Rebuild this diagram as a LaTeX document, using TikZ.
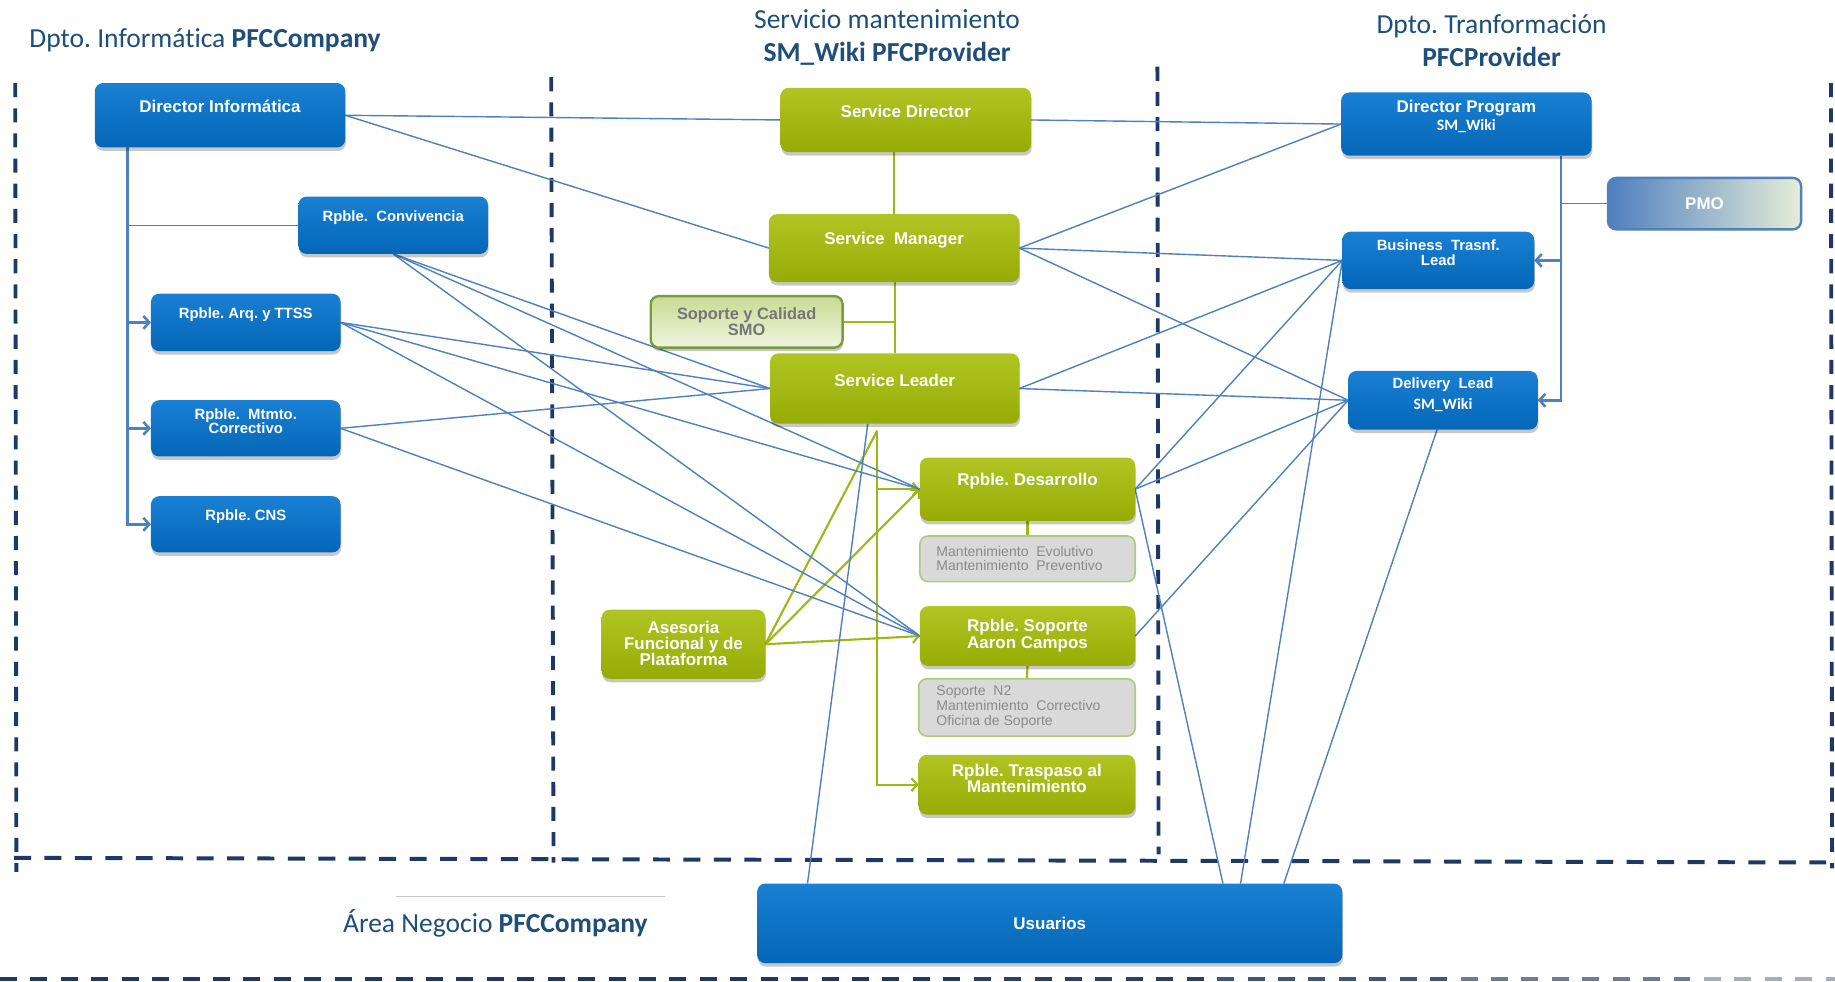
\documentclass[tikz,border=0pt]{standalone}
\usepackage{fontspec}
\setmainfont{Liberation Sans}
\newfontfamily\calib[Ligatures=NoCommon]{Carlito}
\usetikzlibrary{arrows.meta,shadows,calc}
\frenchspacing

\definecolor{navy}{HTML}{1F3864}
\definecolor{fadeend}{HTML}{D8DCE2}
\definecolor{ttl}{HTML}{1F4E79}
\definecolor{connc}{HTML}{4F81BD}
\definecolor{bluetop}{HTML}{1A80D3}
\definecolor{bluebot}{HTML}{0466B6}
\definecolor{greentop}{HTML}{B0C523}
\definecolor{greenbot}{HTML}{96AC05}
\definecolor{greenc}{HTML}{9DB815}
\definecolor{grayfill}{HTML}{D9D9D9}
\definecolor{grayedge}{HTML}{ADCB78}
\definecolor{graytext}{HTML}{8A8A8A}
\definecolor{smotop}{HTML}{C8DB92}
\definecolor{smobot}{HTML}{EFF5E0}
\definecolor{smoedge}{HTML}{7A9A3E}
\definecolor{smotext}{HTML}{767676}
\definecolor{pmoA}{HTML}{4F7FBF}
\definecolor{pmoB}{HTML}{7FA3CF}
\definecolor{pmoC}{HTML}{E6EDD8}

\pgfdeclarelayer{bg}
\pgfsetlayers{bg,main}

\tikzset{
  box/.style={rounded corners=7pt, inner sep=0pt, outer sep=0pt},
  shadowed/.style={drop shadow={shadow xshift=0.6pt, shadow yshift=-3pt, opacity=0.22, fill=black}},
  bluebox/.style={box, top color=bluetop, bottom color=bluebot, shadowed},
  greenbox/.style={box, top color=greentop, bottom color=greenbot, shadowed},
  notebox/.style={box, fill=grayfill, draw=grayedge, line width=1.4pt},
  smobox/.style={box, top color=smotop, bottom color=smobot, draw=smoedge, line width=2pt, shadowed},
  pmobox/.style={box, left color=pmoA, middle color=pmoB, right color=pmoC, draw=connc, line width=2pt},
  wl/.style={inner sep=0pt, text=white, align=center, font=\bfseries\fontsize{14.5}{14}\selectfont},
  ws/.style={inner sep=0pt, text=white, align=center, font=\bfseries\fontsize{12.7}{12.3}\selectfont},
  wk/.style={inner sep=0pt, text=white, align=center, font=\calib\bfseries\fontsize{13.5}{14}\selectfont},
  gl/.style={inner sep=0pt, anchor=west, align=left, text=graytext, font=\fontsize{12}{12.6}\selectfont},
  smol/.style={inner sep=0pt, align=center, text=smotext, font=\bfseries\fontsize{14}{14}\selectfont},
  ttlf/.style={inner sep=0pt, text=ttl, font=\calib\fontsize{23.5}{28.4}\selectfont},
  conn/.style={draw=connc, line width=1.2pt},
  trunk/.style={draw=connc, line width=2.2pt},
  gconn/.style={draw=greenc, line width=1.8pt},
  arr/.style={-{Straight Barb[length=5pt,width=11pt]}},
  vdash/.style={draw=navy, line width=3.3pt, dash pattern=on 12pt off 9.5pt},
  hdash/.style={draw=navy, line width=3.4pt, dash pattern=on 14.5pt off 11.5pt},
}

\begin{document}
\begin{tikzpicture}[x=1pt,y=-1pt]
\useasboundingbox (0,0) rectangle (1568,839);

% ---- column titles ----
\node[ttlf, anchor=west] (t1) at (25,34.5) {Dpto. Informática \textbf{PFCCompany}};
\node[ttlf, align=center] (t2) at (758,32) {Servicio mantenimiento\\\textbf{SM\_Wiki PFCProvider}};
\node[ttlf, align=center] (t3) at (1274.5,34.7) {Dpto. Tranformación\\\textbf{PFCProvider}};
\node[ttlf, anchor=west] (t4) at (293,789) {Área Negocio \textbf{PFCCompany}};
\draw[black!22, line width=1.5pt] (338,766) -- (568,766);

% ---- boxes: Dpto. Informática ----
\node[bluebox, minimum width=214pt, minimum height=55pt] (di) at (188,98.5) {};
\node[bluebox, minimum width=162pt, minimum height=49pt] (conv) at (336,192.5) {};
\node[bluebox, minimum width=162pt, minimum height=49pt] (arq) at (210,275.5) {};
\node[bluebox, minimum width=162pt, minimum height=48pt] (mtm) at (210,366) {};
\node[bluebox, minimum width=162pt, minimum height=48pt] (cns) at (210,448) {};

% ---- boxes: Servicio mantenimiento ----
\node[greenbox, minimum width=214pt, minimum height=55pt] (sd) at (774,102.5) {};
\node[greenbox, minimum width=214pt, minimum height=58pt] (sm) at (764,212) {};
\node[smobox, minimum width=164pt, minimum height=44pt] (smo) at (638,275) {};
\node[greenbox, minimum width=213pt, minimum height=60pt] (sl) at (764.5,332) {};
\node[greenbox, minimum width=184pt, minimum height=54pt] (des) at (878,418) {};
\node[notebox, minimum width=184pt, minimum height=39pt] (mevo) at (878,477.5) {};
\node[greenbox, minimum width=140pt, minimum height=59pt] (ase) at (584,550.5) {};
\node[greenbox, minimum width=184pt, minimum height=51pt] (sop) at (878,543.5) {};
\node[notebox, minimum width=185pt, minimum height=49pt] (sopg) at (877.5,604.5) {};
\node[greenbox, minimum width=185pt, minimum height=51pt] (tra) at (877.5,670.5) {};

% ---- boxes: Dpto. Tranformación ----
\node[bluebox, minimum width=214pt, minimum height=54pt] (dp) at (1253,106) {};
\node[pmobox, minimum width=165pt, minimum height=44pt] (pmo) at (1456.5,174) {};
\node[bluebox, minimum width=164pt, minimum height=49pt] (btl) at (1229,222.5) {};
\node[bluebox, minimum width=162pt, minimum height=50pt] (dl) at (1233,342) {};

% ---- box: Área Negocio ----
\node[bluebox, minimum width=500pt, minimum height=68pt] (us) at (897,789) {};

% ---- box texts ----
\node[wl] (diL) at (188,91) {Director Informática};
\node[ws] (convL) at (336,186) {Rpble.\ \ Convivencia};
\node[ws] (arqL) at (210,268.5) {Rpble. Arq. y TTSS};
\node[ws] (mtmL) at (210,360) {Rpble.\ \ Mtmto.\\Correctivo};
\node[ws] (cnsL) at (210,441.5) {Rpble. CNS};
\node[wl] (sdL) at (774,95) {Service Director};
\node[wl] (smL) at (764,205) {Service\ \ Manager};
\node[smol] (smoL) at (638,275) {Soporte y Calidad\\SMO};
\node[wl] (slL) at (764.5,324.7) {Service Leader};
\node[wl] (desL) at (878,410.7) {Rpble. Desarrollo};
\node[gl] (mevoL) at (800,477.3) {Mantenimiento\ \ Evolutivo\\Mantenimiento\ \ Preventivo};
\node[wl] (aseL) at (584,549.8) {Asesoria\\Funcional y de\\Plataforma};
\node[wl] (sopL) at (878,543) {Rpble. Soporte\\Aaron Campos};
\node[gl] (sopgL) at (800,604) {Soporte\ \ N2\\Mantenimiento\ \ Correctivo\\Oficina de Soporte};
\node[wl] (traL) at (877.5,665.3) {Rpble. Traspaso al\\Mantenimiento};
\node[wl] (dpL) at (1253,92.6) {Director Program};
\node[wk] (dpL2) at (1253,108) {SM\_Wiki};
\node[wl] (pmoL) at (1456.5,174) {PMO};
\node[ws] (btlL) at (1229,216) {Business\ \ Trasnf.\\Lead};
\node[ws] (dlL) at (1233,329) {Delivery\ \ Lead};
\node[wk] (dlL2) at (1233,346) {SM\_Wiki};
\node[wl] (usL) at (897,789) {Usuarios};

\begin{pgfonlayer}{bg}
\fill[white] (0,0) rectangle (1568,839);
% ---- area separators ----
\draw[vdash] (13,71) -- (14,745);
\draw[vdash] (471,66) -- (473,737);
\draw[vdash] (989,57) -- (990,730);
\draw[vdash] (1564.5,71) -- (1565.5,742);
\draw[hdash] (12,733) -- (1568,737);
\foreach \i/\p in {0/100,1/100,2/100,3/100,4/95,5/82,6/58,7/28} {
  \draw[hdash, draw=navy!\p!fadeend] (\i*208,836.5) -- (\i*208+208,836.5);
}

% ---- Dpto. Informática hierarchy ----
\coordinate (diT) at ([xshift=-79pt]di.south);
\draw[trunk, arr] (diT) |- (cns.west);
\draw[conn] (diT |- conv.west) -- (conv.west);
\draw[trunk, arr] (diT |- arq.west) -- (arq.west);
\draw[trunk, arr] (diT |- mtm.west) -- (mtm.west);

% ---- Dpto. Tranformación hierarchy ----
\coordinate (dpT) at ([xshift=81pt]dp.south);
\draw[trunk, arr] (dpT) |- (dl.east);
\draw[conn] (dpT |- pmo.west) -- (pmo.west);
\draw[trunk, arr] (dpT |- btl.east) -- (btl.east);

% ---- service chain ----
\draw[gconn] (sm.north |- sd.south) -- (sm.north);
\draw[gconn] (sl.north |- sm.south) -- (sl.north);
\draw[gconn] (smo.east) -- (smo.east -| sl.north);
\draw[gconn] (des.south) -- (mevo.north);
\draw[gconn] (sop.south) -- (sopg.north);
\coordinate (gT) at ([xshift=-15pt,yshift=-6pt]sl.south);
\draw[gconn, arr] (gT) |- (tra.west);
\draw[gconn, arr] (gT |- des.west) -- (des.west);
\draw[gconn] (ase.east) -- (gT);
\draw[gconn, arr] (ase.east) -- (des.west);
\draw[gconn, arr] (ase.east) -- (sop.west);

% ---- cross-area relations ----
\draw[conn] (di.east) -- (sd.west);
\draw[conn] (di.east) -- (sm.west);
\draw[conn] (sd.east) -- (dp.west);
\draw[conn] (sm.east) -- (dp.west);
\draw[conn] (sm.east) -- (btl.west);
\draw[conn] (sm.east) -- (dl.west);
\draw[conn] (conv.south) -- (sl.west);
\draw[conn] (conv.south) -- (des.west);
\draw[conn] (conv.south) -- (sop.west);
\draw[conn] (arq.east) -- (sl.west);
\draw[conn] (arq.east) -- (des.west);
\draw[conn] (arq.east) -- (sop.west);
\draw[conn] (mtm.east) -- (sl.west);
\draw[conn] (mtm.east) -- (sop.west);
\draw[conn] (sl.east) -- (btl.west);
\draw[conn] (sl.east) -- (dl.west);
\draw[conn] (des.east) -- (btl.west);
\draw[conn] (des.east) -- (dl.west);
\draw[conn] (sop.east) -- (dl.west);

% ---- links to Usuarios ----
\draw[conn] ([xshift=-23pt]sl.south) -- ([xshift=-207pt]us.north);
\draw[conn] (des.east) -- ([xshift=148pt]us.north);
\draw[conn] (btl.west) -- ([xshift=163pt]us.north);
\draw[conn] ([xshift=-5pt]dl.south) -- ([xshift=200pt]us.north);
\end{pgfonlayer}
\end{tikzpicture}
\end{document}
